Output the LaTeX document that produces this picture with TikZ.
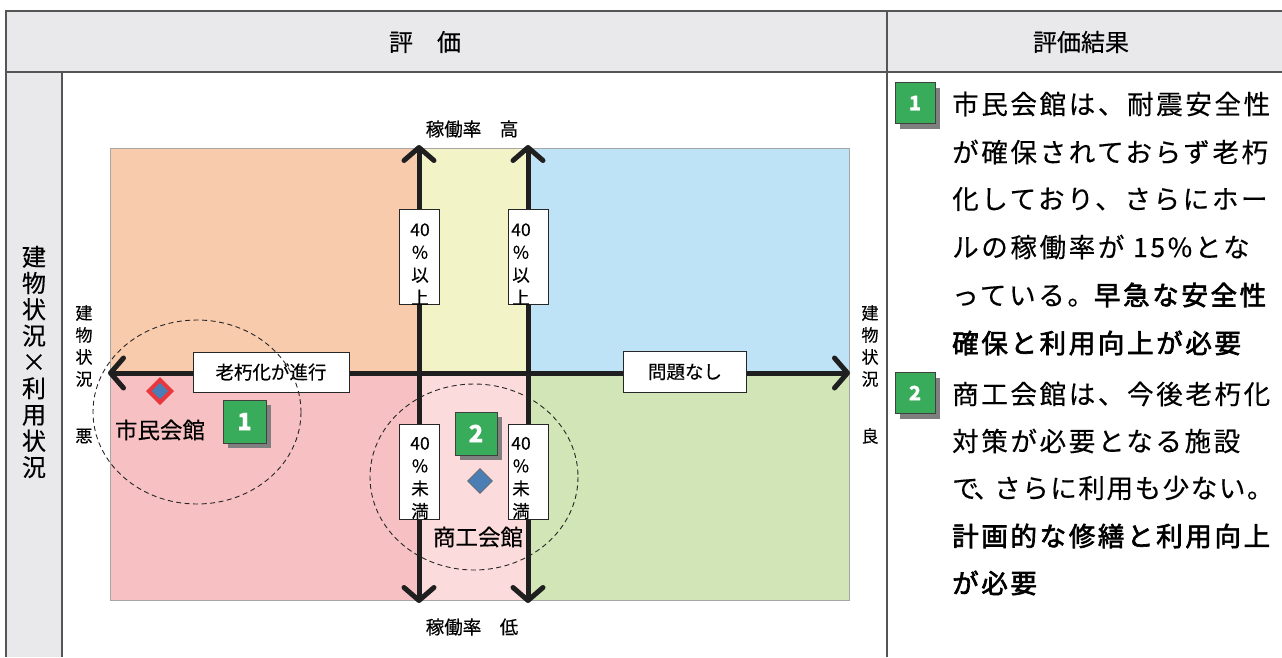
\documentclass[tikz,border=0pt]{standalone}
\usepackage{fontspec}
\setmainfont{Noto Sans CJK JP}[FakeBold=0.35]
\newfontfamily\emphfont{Noto Sans CJK JP}[FakeBold=2.4]
\usetikzlibrary{arrows.meta,shapes.geometric}
\definecolor{hdr}{HTML}{E9E9EB}
\definecolor{tabline}{HTML}{555555}
\definecolor{qor}{HTML}{F8CBAD}
\definecolor{qye}{HTML}{F2F4C8}
\definecolor{qbl}{HTML}{BEE3F6}
\definecolor{qpk}{HTML}{F7C1C3}
\definecolor{qlp}{HTML}{FCDBDC}
\definecolor{qgr}{HTML}{D2E5B6}
\definecolor{bgreen}{HTML}{38AC5A}
\definecolor{shad}{HTML}{7F7F7F}
\definecolor{dblue}{HTML}{4A7EB5}
\definecolor{dred}{HTML}{E8383D}
\tikzset{
  tab/.style={draw=tabline, line width=1.4pt},
  axisline/.style={line width=5pt, draw=black!88,
    {Straight Barb[length=13pt,width=30pt,round]}-{Straight Barb[length=13pt,width=30pt,round]}},
  lbl/.style={draw=black!85, fill=white, line width=1pt, inner sep=0pt,
    font=\fontsize{18.5}{20}\selectfont},
  vbox/.style={draw=black!85, fill=white, line width=1pt, inner sep=0pt,
    minimum width=40pt, minimum height=95pt},
  vtxt/.style={align=center, inner sep=0pt, font=\fontsize{17.5}{22.7}\selectfont},
  sidetxt/.style={align=center, inner sep=0pt, font=\fontsize{17}{22}\selectfont},
  badge/.style={fill=bgreen, draw=black!75, line width=0.8pt, text=white,
    inner sep=0pt, font=\fontsize{24}{24}\selectfont\bfseries,
    preaction={fill=shad, transform canvas={shift={(5pt,-5pt)}}}},
  circ/.style={draw=black!85, line width=0.9pt, dash pattern=on 5pt off 3.5pt},
  body/.style={anchor=west, inner sep=0pt,
    font=\fontsize{26.5}{26}\selectfont\addfontfeature{LetterSpace=10}},
}
\begin{document}
\begin{tikzpicture}[x=1pt,y=-1pt]
\useasboundingbox (0,0) rectangle (1282,657);
% table
\fill[hdr] (6,11) rectangle (1282,72);
\fill[hdr] (6,72) rectangle (62,657);
\draw[tab] (1282,11) -- (6,11) -- (6,657);
\draw[tab] (6,72) -- (1282,72);
\draw[tab] (62,72) -- (62,657);
\draw[tab] (887,11) -- (887,657);
\node[font=\fontsize{24}{28}\selectfont] (h1) at (425,42) {評　価};
\node[font=\fontsize{24}{28}\selectfont] (h2) at (1081,42) {評価結果};
\node[align=center, inner sep=0pt, font=\fontsize{24}{26.3}\selectfont] (side) at (34,362)
  {建\\物\\状\\況\\×\\利\\用\\状\\況};
% quadrants
\fill[qor] (110,148) rectangle (419,373);
\fill[qye] (419,148) rectangle (528,373);
\fill[qbl] (528,148) rectangle (849,373);
\fill[qpk] (110,373) rectangle (419,600);
\fill[qlp] (419,373) rectangle (528,600);
\fill[qgr] (528,373) rectangle (849,600);
\draw[black!35, line width=0.8pt] (110,148) rectangle (849,600);
% axis labels
\node[font=\fontsize{18.5}{20}\selectfont] (top) at (472,129) {稼働率　高};
\node[font=\fontsize{18.5}{20}\selectfont] (bot) at (472,627) {稼働率　低};
\node[sidetxt] (lefts) at (84,346) {建\\物\\状\\況};
\node[sidetxt] (leftb) at (84,436) {悪};
\node[sidetxt] (rights) at (870,346) {建\\物\\状\\況};
\node[sidetxt] (rightb) at (870,436) {良};
% axes
\coordinate (v1t) at (419,145); \coordinate (v1b) at (419,603);
\coordinate (v2t) at (528,145); \coordinate (v2b) at (528,603);
\coordinate (hl) at (108,373); \coordinate (hr) at (850,373);
\draw[axisline] (v1t) -- (v1b);
\draw[axisline] (v2t) -- (v2b);
\draw[axisline] (hl) -- (hr);
% labels on axes
\node[lbl, minimum width=156pt, minimum height=40pt] (old) at (271,372) {老朽化が進行};
\node[lbl, minimum width=123pt, minimum height=41pt] (ok) at (685,372) {問題なし};
\node[vbox] (u1) at (419,256.5) {};
\node[vbox] (u2) at (528,256.5) {};
\node[vbox] (d1) at (419,471.5) {};
\node[vbox] (d2) at (528,471.5) {};
\node[vtxt] (u1t) at (420,264) {40\\\%\\以\\上};
\node[vtxt] (u2t) at (521,264) {40\\\%\\以\\上};
\node[vtxt] (d1t) at (420,478) {40\\\%\\未\\満};
\node[vtxt] (d2t) at (521,478) {40\\\%\\未\\満};
% facilities
\node[diamond, aspect=1, inner sep=0pt, minimum size=24pt, fill=dblue, draw=dred, line width=4pt] (dm1) at (160,391) {};
\node[diamond, aspect=1, inner sep=0pt, minimum size=25pt, fill=dblue, draw=black!60, line width=0.6pt] (dm2) at (480,481) {};
\node[font=\fontsize{22.5}{24}\selectfont] (n1) at (160,430) {市民会館};
\node[font=\fontsize{22.5}{24}\selectfont] (n2) at (478,537) {商工会館};
\node[badge, minimum width=43pt, minimum height=43pt] (g1) at (244.5,421.5) {1};
\node[badge, minimum width=42pt, minimum height=43pt] (g2) at (476,433.5) {2};
\draw[circ] (197,412) ellipse [x radius=104, y radius=92];
\draw[circ] (474,477) ellipse [x radius=104, y radius=93];
% results column
\node[badge, minimum width=40pt, minimum height=41pt, font=\fontsize{20}{20}\selectfont\bfseries] (r1) at (915,103) {1};
\node[badge, minimum width=40pt, minimum height=41pt, font=\fontsize{20}{20}\selectfont\bfseries] (r2) at (915,393) {2};
\node[body] (a1) at (952,104) {市民会館は、耐震安全性};
\node[body] (a2) at (952,152) {が確保されておらず老朽};
\node[body] (a3) at (952,199) {化しており、さらにホー};
\node[body] (a4) at (952,247) {ルの稼働率が 15\%とな};
\node[body] (a5) at (952,295) {っている。{\emphfont\addfontfeature{LetterSpace=10}早急な安全性}};
\node[body] (a6) at (952,343) {\emphfont\addfontfeature{LetterSpace=10}確保と利用向上が必要};
\node[body] (b1) at (952,394) {商工会館は、今後老朽化};
\node[body] (b2) at (952,441) {対策が必要となる施設};
\node[body, font=\fontsize{26.5}{26}\selectfont\addfontfeature{LetterSpace=6}] (b3) at (952,488) {で\kern-5pt、\kern-6pt さらに利用も少ない。};
\node[body] (b4) at (952,536) {\emphfont\addfontfeature{LetterSpace=10}計画的な修繕と利用向上};
\node[body] (b5) at (952,583) {\emphfont\addfontfeature{LetterSpace=10}が必要};
\end{tikzpicture}
\end{document}
